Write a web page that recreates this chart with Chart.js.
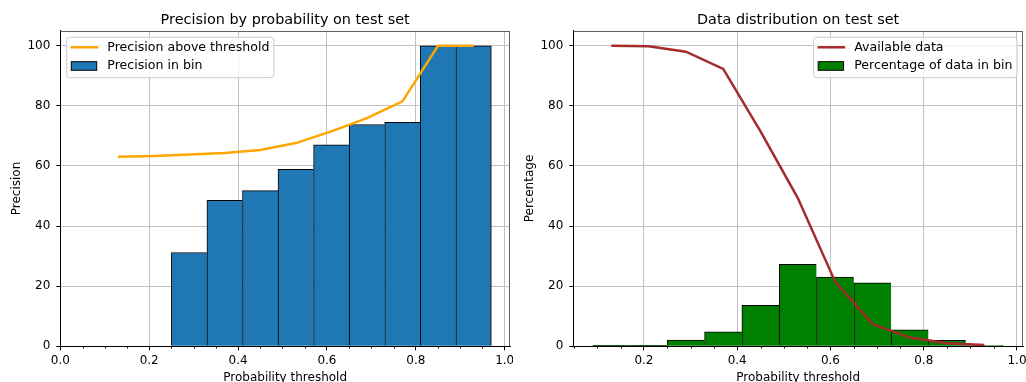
<!DOCTYPE html>
<html>
<head>
<meta charset="utf-8">
<script src="https://cdn.jsdelivr.net/npm/chart.js@4.4.0/dist/chart.umd.min.js"></script>
<style>
  body { margin: 0; background: #fff; }
  .wrap { position: relative; width: 1026px; height: 382px; overflow: hidden; }
  canvas { position: absolute; top: 0; }
</style>
</head>
<body>
<div class="wrap">
  <canvas id="precisionChart" width="513" height="382" style="left:0"></canvas>
  <canvas id="distributionChart" width="513" height="382" style="left:513px"></canvas>
</div>
<script>
// bin centres (bins are 0.08 wide, from 0.09 to 0.97)
const binCenters = [0.13, 0.21, 0.29, 0.37, 0.45, 0.53, 0.61, 0.69, 0.77, 0.85, 0.93];

// left chart
const precisionAbove = [63.1, 63.3, 63.8, 64.3, 65.3, 67.6, 71.5, 75.9, 81.5, 100, 100];
const precisionInBin = [null, null, 31.2, 48.6, 51.8, 58.9, 67.0, 73.8, 74.5, 100, 100];

// right chart
const availableData = [100, 99.8, 98.0, 92.3, 71.5, 49.3, 21.5, 7.4, 2.9, 1.0, 0.4];
const dataInBin = [0.3, 0.3, 2.1, 4.8, 13.6, 27.3, 23.0, 21.1, 5.5, 2.0, 0.2];

// tick labels
const leftXTicks = [0.0, 0.2, 0.4, 0.6, 0.8, 1.0];
const rightXTicks = [0.2, 0.4, 0.6, 0.8, 1.0];
const yTicks = [0, 20, 40, 60, 80, 100];

const FONT = 'DejaVu Sans';
const gridColor = '#c0c0c0';

const points = (ys) => binCenters.map((x, i) => ({x: x, y: ys[i]}));

// last non-null bar gets a right edge too, others only left+top (edges shared like matplotlib)
function histBorder(values) {
    let last = -1;
    values.forEach((v, i) => { if (v !== null) last = i; });
    return (c) => ({top: 1, left: 1, bottom: 0, right: c.dataIndex === last ? 1 : 0});
}

// top/right spines and the minor x ticks
const frameAndMinorTicks = {
    id: 'frameAndMinorTicks',
    afterDraw(chart) {
        const {ctx, chartArea: a, scales: {x}} = chart;
        const top = Math.round(a.top) + 0.5, right = Math.round(a.right) - 0.5;
        const bottom = Math.round(a.bottom);
        ctx.save();
        ctx.lineWidth = 1;
        ctx.strokeStyle = '#606060';
        ctx.beginPath();
        ctx.moveTo(a.left, top); ctx.lineTo(right + 0.5, top);
        ctx.moveTo(right, top); ctx.lineTo(right, bottom);
        ctx.stroke();
        ctx.strokeStyle = '#000';
        ctx.beginPath();
        for (let i = 1; i <= 20; i++) {
            const v = i * 0.05;
            if (i % 4 === 0 || v < x.min || v > x.max) continue;
            const px = Math.round(x.getPixelForValue(v)) + 0.5;
            ctx.moveTo(px, bottom); ctx.lineTo(px, bottom + 2.5);
        }
        ctx.stroke();
        ctx.restore();
    }
};

// matplotlib style legend box inside the axes
const legendBox = {
    id: 'legendBox',
    afterDatasetsDraw(chart, args, opts) {
        const {ctx, chartArea: a} = chart;
        const sets = chart.data.datasets;
        ctx.save();
        ctx.font = '12.6px "' + FONT + '"';
        const textW = Math.max(...sets.map(d => ctx.measureText(d.label).width));
        const w = 40.6 + textW + 4.5, h = 40.4;
        const x0 = opts.side === 'right' ? a.right - 6 - w : a.left + 6.4;
        const y0 = a.top + 6.6;
        ctx.beginPath();
        ctx.roundRect(x0, y0, w, h, 3);
        ctx.fillStyle = 'rgba(255,255,255,0.8)';
        ctx.fill();
        ctx.strokeStyle = '#cccccc';
        ctx.lineWidth = 1;
        ctx.stroke();
        sets.forEach((d, i) => {
            const cy = y0 + 10 + i * 18.7;
            if (d.type === 'line') {
                ctx.strokeStyle = d.borderColor;
                ctx.lineWidth = d.borderWidth;
                ctx.beginPath();
                ctx.moveTo(x0 + 4, cy); ctx.lineTo(x0 + 31.6, cy);
                ctx.stroke();
            } else {
                ctx.fillStyle = d.backgroundColor;
                ctx.fillRect(x0 + 4.6, cy - 4.3, 25.4, 8.6);
                ctx.strokeStyle = '#000';
                ctx.lineWidth = 1;
                ctx.strokeRect(x0 + 4.6, cy - 4.3, 25.4, 8.6);
            }
            ctx.fillStyle = '#000';
            ctx.textBaseline = 'middle';
            ctx.fillText(d.label, x0 + 40.6, cy);
        });
        ctx.restore();
    }
};

function makeScales(xMin, xMax, xTicks, yLabel) {
    const tickFont = {family: FONT, size: 12};
    return {
        x: {
            type: 'linear', min: xMin, max: xMax, offset: false,
            afterBuildTicks: (s) => { s.ticks = xTicks.map(v => ({value: v})); },
            afterFit: (s) => { s.height = 35.7; s.paddingLeft = 0; s.paddingRight = 0; },
            ticks: {callback: v => v.toFixed(1), font: tickFont, color: '#000', padding: 3, maxRotation: 0, autoSkip: false},
            grid: {color: gridColor, tickColor: '#000', tickLength: 4, offset: false},
            border: {color: '#000', width: 1},
            title: {display: true, text: 'Probability threshold', color: '#000',
                    font: {family: FONT, size: 12, lineHeight: 1}, padding: {top: 0, bottom: -2}}
        },
        y: {
            min: 0, max: 105,
            afterBuildTicks: (s) => { s.ticks = yTicks.map(v => ({value: v})); },
            afterFit: (s) => { s.width = 60.3; s.paddingTop = 0; s.paddingBottom = 0; },
            ticks: {font: tickFont, color: '#000', padding: 6},
            grid: {color: gridColor, tickColor: '#000', tickLength: 4},
            border: {color: '#000', width: 1},
            title: {display: true, text: yLabel, color: '#000',
                    font: {family: FONT, size: 12, lineHeight: 1}, padding: {top: 10.7, bottom: 0}}
        }
    };
}

function makeTitle(text) {
    return {display: true, text: text, fullSize: false, color: '#000',
            font: {family: FONT, size: 14.4, weight: 'normal'}, padding: {top: 11.9, bottom: 1.5}};
}

const precisionChart = new Chart(document.getElementById('precisionChart'), {
    type: 'bar',
    data: {
        datasets: [{
            type: 'line',
            label: 'Precision above threshold',
            data: points(precisionAbove),
            borderColor: '#ffa500',
            borderWidth: 2.5,
            pointRadius: 0,
            tension: 0
        }, {
            type: 'bar',
            label: 'Precision in bin',
            data: points(precisionInBin),
            backgroundColor: '#1f77b4',
            borderColor: '#000',
            borderWidth: histBorder(precisionInBin),
            borderSkipped: false,
            barPercentage: 1,
            categoryPercentage: 1
        }]
    },
    options: {
        responsive: false,
        animation: false,
        layout: {padding: {left: 0, right: 3, top: 0, bottom: 0}},
        scales: makeScales(0, 1.012, leftXTicks, 'Precision'),
        plugins: {
            legend: {display: false},
            tooltip: {enabled: false},
            title: makeTitle('Precision by probability on test set'),
            legendBox: {side: 'left'}
        }
    },
    plugins: [frameAndMinorTicks, legendBox]
});

const distributionChart = new Chart(document.getElementById('distributionChart'), {
    type: 'bar',
    data: {
        datasets: [{
            type: 'line',
            label: 'Available data',
            data: points(availableData),
            borderColor: '#a52a2a',
            borderWidth: 2.5,
            pointRadius: 0,
            tension: 0
        }, {
            type: 'bar',
            label: 'Percentage of data in bin',
            data: points(dataInBin),
            backgroundColor: '#008000',
            borderColor: '#000',
            borderWidth: histBorder(dataInBin),
            borderSkipped: false,
            barPercentage: 1,
            categoryPercentage: 1
        }]
    },
    options: {
        responsive: false,
        animation: false,
        layout: {padding: {left: 0, right: 3, top: 0, bottom: 0}},
        scales: makeScales(0.0485, 1.0129, rightXTicks, 'Percentage'),
        plugins: {
            legend: {display: false},
            tooltip: {enabled: false},
            title: makeTitle('Data distribution on test set'),
            legendBox: {side: 'right'}
        }
    },
    plugins: [frameAndMinorTicks, legendBox]
});
</script>
</body>
</html>
